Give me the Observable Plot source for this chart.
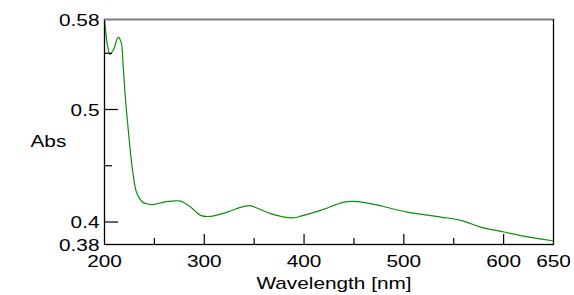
<!DOCTYPE html>
<html>
<head>
<meta charset="utf-8">
<script src="https://cdn.jsdelivr.net/npm/d3@7"></script>
<script src="https://cdn.jsdelivr.net/npm/@observablehq/plot@0.6"></script>
<style>
  html, body { margin: 0; padding: 0; background: #fff; }
  #chart { width: 574px; height: 295px; }
</style>
</head>
<body>
<div id="chart"></div>
<script>
// Absorbance spectrum
const wavelength = [200, 201.5, 203.2, 205.5, 209.3, 213.7, 216.7, 218.7, 221, 223.4, 226, 228.4, 232, 237.7, 242, 248, 259.5, 268, 276.2, 286.3, 296.3, 306.3, 323, 339.6, 346, 353.2, 366.5, 380, 390, 396.6, 403.3, 416.7, 440, 450, 470, 503.5, 537, 557, 577, 600.5, 624, 650];
const absorbance = [0.579, 0.567, 0.556, 0.5490, 0.5538, 0.5641, 0.5597, 0.539, 0.5095, 0.4858, 0.462, 0.4443, 0.4266, 0.418, 0.4162, 0.4155, 0.4177, 0.4186, 0.4186, 0.4133, 0.4059, 0.405, 0.4088, 0.4139, 0.4145, 0.4122, 0.4074, 0.4044, 0.4038, 0.4052, 0.4068, 0.4103, 0.4177, 0.4183, 0.4157, 0.4088, 0.4044, 0.4015, 0.3955, 0.3911, 0.3867, 0.3831];

const xTickLabels = [200, 300, 400, 500, 600, 650];
const xMajorTicks = [300, 400, 500, 600];
const xMinorTicks = [250, 350, 450, 550];
const yTickLabels = [0.38, 0.4, 0.5, 0.58];
const yMajorTicks = [0.4, 0.5];
const yMinorTicks = [0.45, 0.55];
const xTitle = "Wavelength [nm]";
const yTitle = "Abs";

const data = wavelength.map((w, i) => ({w, a: absorbance[i]}));

const W = 574, H = 295;
const mL = 104, mR = 21, mT = 19, mB = 51;
const fw = W - mL - mR, fh = H - mT - mB;
const fmt = d => String(d);

const plot = Plot.plot({
  width: W,
  height: H,
  marginLeft: mL,
  marginRight: mR,
  marginTop: mT,
  marginBottom: mB,
  style: {background: "#fff", fontFamily: "'Liberation Sans', Arial, sans-serif", fontSize: "16px", color: "#000"},
  x: {domain: [200, 650], axis: null},
  y: {domain: [0.38, 0.58], axis: null},
  marks: [
    Plot.line(data, {x: "w", y: "a", stroke: "#0c8f0c", strokeWidth: 1.2, curve: "catmull-rom"}),
    Plot.tickX(xMajorTicks, {x: d => d, stroke: "#000", strokeWidth: 1.2, insetTop: fh - 10}),
    Plot.tickX(xMinorTicks, {x: d => d, stroke: "#000", strokeWidth: 1.2, insetTop: fh - 6}),
    Plot.tickY(yMajorTicks, {y: d => d, stroke: "#000", strokeWidth: 1.2, insetRight: fw - 14}),
    Plot.tickY(yMinorTicks, {y: d => d, stroke: "#000", strokeWidth: 1.2, insetRight: fw - 8}),
    Plot.frame({stroke: "#000", strokeWidth: 1.3}),
    Plot.ruleY([0.58], {stroke: "#7a7a7a", strokeWidth: 1.3}),
    Plot.text(xTickLabels, {x: d => d, text: fmt, frameAnchor: "bottom", dy: 22, fill: "#000"}),
    Plot.text(yTickLabels, {y: d => d, text: fmt, frameAnchor: "left", dx: -5, dy: 1, textAnchor: "end", fill: "#000"}),
    Plot.text([xTitle], {text: d => d, frameAnchor: "bottom", dx: 5, dy: 44, fill: "#000"}),
    Plot.text([yTitle], {text: d => d, frameAnchor: "left", dx: -74, dy: 10, fill: "#000"})
  ]
});

// stretch labels horizontally, as in the reference
plot.querySelectorAll("text").forEach(t => {
  const tr = t.getAttribute("transform");
  if (tr) {
    t.setAttribute("transform", tr + " scale(1.3,1)");
  } else {
    const x = +(t.getAttribute("x") || 0), y = +(t.getAttribute("y") || 0);
    t.setAttribute("transform", `translate(${x},${y}) scale(1.3,1) translate(${-x},${-y})`);
  }
});

document.getElementById("chart").appendChild(plot);
</script>
</body>
</html>
